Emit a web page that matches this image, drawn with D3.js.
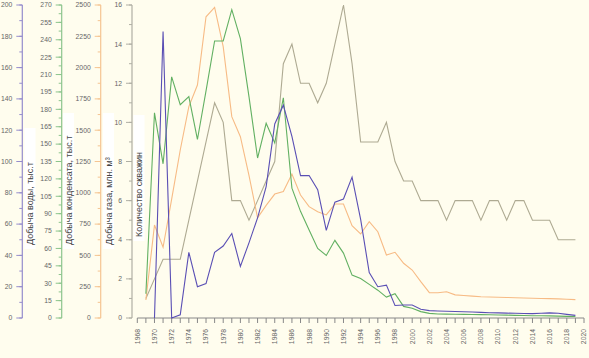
<!DOCTYPE html>
<html><head><meta charset="utf-8">
<script src="https://cdn.jsdelivr.net/npm/d3@7"></script>
<style>
html,body{margin:0;padding:0;background:#fffdee;}
svg{display:block;font-family:"Liberation Sans",Arial,sans-serif;}
</style></head>
<body><svg id="c" width="589" height="358"></svg>
<script>
const years = [1969,1970,1971,1972,1973,1974,1975,1976,1977,1978,1979,1980,1981,1982,1983,1984,1985,1986,1987,1988,1989,1990,1991,1992,1993,1994,1995,1996,1997,1998,1999,2000,2001,2002,2003,2004,2005,2006,2007,2008,2009,2010,2011,2012,2013,2014,2015,2016,2017,2018,2019];
const water = [null,0,183,0,2,42,20,22,42,46,54,33,48,64,84,124,136,116,91,91,82,56,74,76,90,63,29,20,21,8,8.3,8.3,5.6,4.7,4.5,4.3,4.2,4.0,3.8,3.6,3.4,3.3,3.1,3.0,2.9,2.8,3.0,3.3,3.0,2.3,1.7];
const condensate = [21,177,133,208,184,191,154,196,239,239,266,241,191,138,168,151,190,112,92,76,60,54,67,56,37,34,29,24,18,21,10,8.4,5.5,4,3.5,3.3,3.2,3.1,3.0,2.9,2.8,2.6,2.5,2.3,2.2,2.0,1.9,1.8,1.6,1.4,1.3];
const gas = [144,743,565,950,1342,1688,1861,2406,2481,2167,1608,1448,1140,800,900,990,1010,1150,982,889,849,823,910,910,737,671,769,689,503,525,437,383,290,202,202,210,185,180,175,170,168,166,164,162,160,158,156,155,153,150,147];
const wells = [1,2,3,3,3,5,7,9,11,10,6,6,5,6,7,8,13,14,12,12,11,12,14,16,13,9,9,9,10,8,7,7,6,6,6,5,6,6,6,5,6,6,5,6,6,5,5,5,4,4,4];
const xTickYears = [1968,1970,1972,1974,1976,1978,1980,1982,1984,1986,1988,1990,1992,1994,1996,1998,2000,2002,2004,2006,2008,2010,2012,2014,2016,2018,2020];
const waterTicks = [0,20,40,60,80,100,120,140,160,180,200];
const condTicks = [0,15,30,45,60,75,90,105,120,135,150,165,180,195,210,225,240,255,270];
const gasTicks = [0,250,500,750,1000,1250,1500,1750,2000,2250,2500];
const wellTicks = [0,2,4,6,8,10,12,14,16];
const titles = {water:"Добыча воды, тыс.т", cond:"Добыча конденсата, тыс.т", gas:"Добыча газа, млн. м³", wells:"Количество скважин"};

const svg = d3.select("#c");
const plotTop = 5, plotBottom = 318;
const x = d3.scaleLinear().domain([1968,2020]).range([137.3,584]);
const yW = d3.scaleLinear().domain([0,200]).range([plotBottom,plotTop]);
const yC = d3.scaleLinear().domain([0,270]).range([plotBottom,plotTop]);
const yG = d3.scaleLinear().domain([0,2500]).range([plotBottom,plotTop]);
const yN = d3.scaleLinear().domain([0,16]).range([plotBottom,plotTop]);

const cols = {water:"#5a4fb4", cond:"#62b062", gas:"#f7bb85", wells:"#aeaa92"};
const axCols = {water:"#958dcc", cond:"#8dc58d", gas:"#f5c592", wells:"#b0afa4"};

function vAxis(scale, xpos, ticks, minorStep, col){
  const g = svg.append("g").attr("transform",`translate(${xpos},0)`);
  const minor = d3.range(0, scale.domain()[1]+1e-9, minorStep);
  g.selectAll("line.mn").data(minor).join("line")
    .attr("x1",-3).attr("x2",0).attr("y1",d=>scale(d)).attr("y2",d=>scale(d))
    .attr("stroke",col).attr("stroke-width",1);
  g.selectAll("line.mj").data(ticks).join("line")
    .attr("x1",-6).attr("x2",0).attr("y1",d=>scale(d)).attr("y2",d=>scale(d))
    .attr("stroke",col).attr("stroke-width",1);
  g.append("line").attr("x1",0).attr("x2",0).attr("y1",scale.range()[0]).attr("y2",scale.range()[1])
    .attr("stroke",col).attr("stroke-width",1.2);
  g.selectAll("text").data(ticks).join("text")
    .attr("x",-10).attr("y",d=>scale(d)).attr("dy","0.35em")
    .attr("text-anchor","end").attr("font-size",6.8).attr("fill","#666").text(d=>d);
}
vAxis(yW, 22.3, waterTicks, 10, axCols.water);
vAxis(yC, 61.7, condTicks, 7.5, axCols.cond);
vAxis(yG, 100.7, gasTicks, 125, axCols.gas);
vAxis(yN, 132, wellTicks, 1, axCols.wells);

function title(txt, cx, bottomY, boxTop){
  svg.append("rect").attr("x",cx-5.5).attr("y",boxTop).attr("width",11).attr("height",bottomY+4-boxTop).attr("fill","#ffffff");
  svg.append("text").attr("transform",`translate(${cx+3.2},${bottomY}) rotate(-90)`)
    .attr("font-size",9).attr("fill","#444").text(txt);
}
title(titles.water, 30, 245, 128);
title(titles.cond, 68.5, 245, 113);
title(titles.gas, 108.5, 245, 113);
title(titles.wells, 139, 237, 115);

const xa = svg.append("g");
xa.append("line").attr("x1",x(1968)).attr("x2",x(2020)).attr("y1",plotBottom).attr("y2",plotBottom).attr("stroke","#888").attr("stroke-width",1);
xa.selectAll("line.t").data(d3.range(1968,2021)).join("line")
  .attr("x1",d=>x(d)).attr("x2",d=>x(d)).attr("y1",plotBottom).attr("y2",plotBottom+5).attr("stroke","#888");
xa.selectAll("text").data(xTickYears).join("text")
  .attr("transform",d=>`translate(${x(d)+2.4},329) rotate(-90)`)
  .attr("text-anchor","end").attr("font-size",6.8).attr("fill","#666").text(d=>d);

function series(vals, scale, col){
  const line = d3.line().defined(d=>d[1]!==null).x(d=>x(d[0])).y(d=>scale(d[1]));
  svg.append("path").datum(years.map((yr,i)=>[yr,vals[i]])).attr("d",line)
    .attr("fill","none").attr("stroke",col).attr("stroke-width",1.1).attr("stroke-linejoin","miter");
}
series(wells, yN, cols.wells);
series(gas, yG, cols.gas);
series(condensate, yC, cols.cond);
series(water, yW, cols.water);
</script></body></html>
